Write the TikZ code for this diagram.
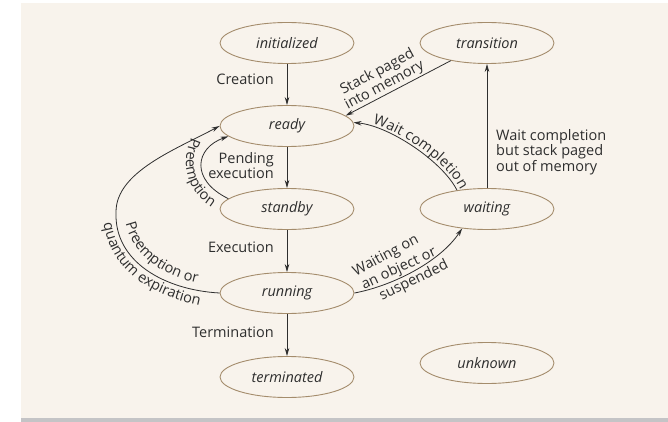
\documentclass[tikz,border=0pt]{standalone}
\usepackage{fontspec}
\setmainfont{Open Sans}
\usetikzlibrary{arrows.meta,shapes.geometric,decorations.text}
\definecolor{bgbeige}{HTML}{F8F3EC}
\definecolor{edgebrown}{HTML}{A48C6C}
\definecolor{inkgray}{HTML}{2E2E2E}
\definecolor{shadowgray}{HTML}{C4C4C6}
\newcommand{\lblfont}{\fontsize{14.5}{13.4}\selectfont}
\begin{document}
\begin{tikzpicture}[x=1pt,y=-1pt,
  state/.style={ellipse, draw=edgebrown, line width=0.9pt, minimum width=134pt, minimum height=41pt, inner sep=0pt, font=\lblfont\itshape, text=inkgray},
  lbl/.style={font=\lblfont, text=inkgray, inner sep=0pt},
  arr/.style={draw=inkgray, line width=0.8pt, -{Stealth[length=8pt,width=4.5pt]}},
]
\useasboundingbox (0,0) rectangle (668,422);
\fill[white] (0,0) rectangle (668,422);
\fill[bgbeige] (21,3) rectangle (668,418);
\fill[shadowgray] (21,418) rectangle (668,422);

% states
\node[state] (init) at (287,43) {initialized};
\node[state] (trans) at (487,43) {transition};
\node[state] (ready) at (287,126) {ready};
\node[state] (standby) at (287,209) {standby};
\node[state] (waiting) at (487,209) {waiting};
\node[state] (running) at (287,293) {running};
\node[state] (terminated) at (287,377) {terminated};
\node[state] (unknown) at (487,363) {unknown};

% straight connectors
\draw[arr] (init) -- (ready);
\draw[arr] (ready) -- (standby);
\draw[arr] (standby) -- (running);
\draw[arr] (running) -- (terminated);
\draw[arr] (waiting) -- (trans);
\draw[arr] (trans.206) -- (ready.10);

% curved connectors
\draw[arr] (waiting.148) .. controls (443,162) and (390,126) .. (ready.3);
\draw[arr] (running.east) .. controls (392,286) and (440,262) .. (waiting.218);
\draw[arr] (running.west) .. controls (165,290) and (114,262) .. (116,212)
           .. controls (116,172) and (175.5,149.5) .. (ready.west);
\draw[arr] (standby.170) .. controls (190,180) and (195,148) .. (ready.190);

% horizontal labels
\node[lbl, anchor=east] (lcreation) at (274,79) {Creation};
\node[lbl, anchor=east, align=right] (lpending) at (274,166) {Pending\\execution};
\node[lbl, anchor=east] (lexecution) at (274,247) {Execution};
\node[lbl, anchor=east] (lterm) at (274,332) {Termination};
\node[lbl, anchor=west, align=left] (lwaitpaged) at (496,152) {Wait completion\\but stack paged\\out of memory};
\node[lbl, align=center, rotate=28] (lstack) at (381,79) {Stack paged\\into memory};

% labels on the running -> waiting arc
\node[lbl, rotate=28] (lwo1) at (386,256) {Waiting on};
\node[lbl, rotate=25] (lwo2) at (399,269) {an object or};
\node[lbl, rotate=26] (lwo3) at (414,281) {suspended};

% curved labels
\path[decorate, decoration={text along path, text={|\lblfont\color{inkgray}|Preemption}, text align=center}]
  (198,128) .. controls (180,148) and (178,195) .. (222,212);
\path[decorate, decoration={text along path, text={|\lblfont\color{inkgray}|Preemption or}, text align={left, left indent=19pt}}]
  (124,205) .. controls (122,250) and (160,282) .. (222,287);
\path[decorate, decoration={text along path, text={|\lblfont\color{inkgray}|quantum expiration}, text align={left, left indent=24pt}}]
  (102,200) .. controls (100,270) and (150,300) .. (225,310);
\path[decorate, decoration={text along path, text={|\lblfont\color{inkgray}|Wait completion}, text align={left, left indent=18pt}, raise=3pt}]
  (354,122.5) .. controls (390,126) and (443,162) .. (457.5,190.6) -- (465,206);
\end{tikzpicture}
\end{document}
